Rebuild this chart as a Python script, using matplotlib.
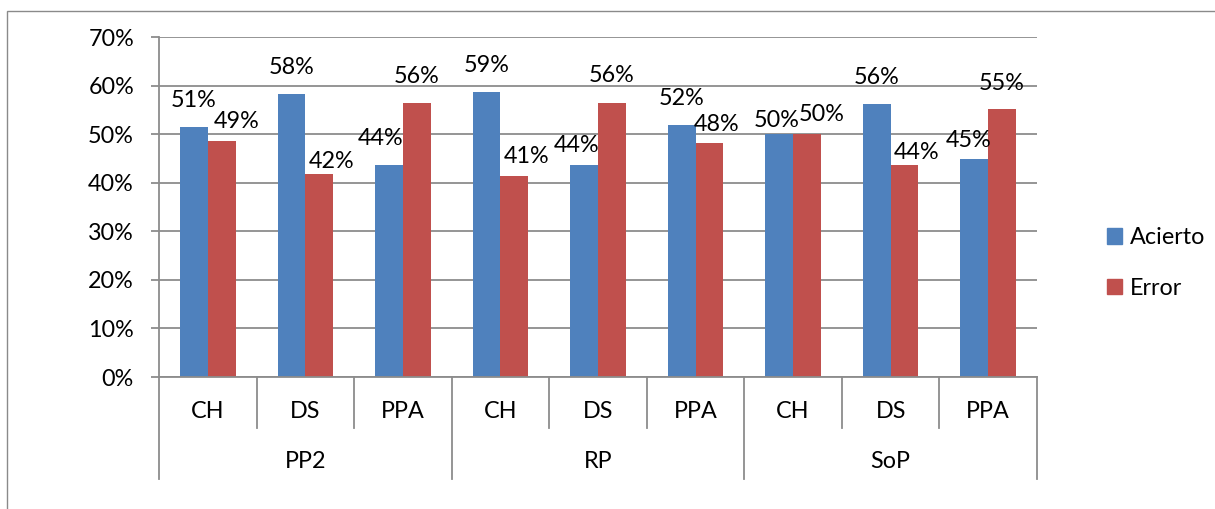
import matplotlib
matplotlib.use("Agg")
import matplotlib.pyplot as plt
from matplotlib.patches import Rectangle, Patch
from matplotlib.lines import Line2D
import numpy as np

# datos
grupos = ["PP2", "RP", "SoP"]
subcats = ["CH", "DS", "PPA"]
acierto = [51.4, 58.3, 43.6, 58.7, 43.6, 51.9, 50.0, 56.3, 44.9]
error = [48.6, 41.7, 56.4, 41.3, 56.4, 48.1, 50.0, 43.7, 55.1]
yticks = [0, 10, 20, 30, 40, 50, 60, 70]

# ajustes manuales de etiquetas (px): desplazamiento x, separacion sobre la barra
nudge_acierto = [(0, 20), (0, 20), (-8, 20), (0, 20), (-8, 13), (0, 20), (-3, 7), (0, 20), (-6, 12)]
nudge_error = [(15, 13), (12, 6), (0, 20), (12, 13), (0, 21), (7, 12), (15, 13), (12, 6), (0, 19)]

plt.rcParams['font.family'] = ['Lato', 'DejaVu Sans']
FS = 16.8
azul = '#4F81BD'
rojo = '#C0504D'
gris = '#8C8C8C'

W, H = 1215, 509
fig = plt.figure(figsize=(W / 100, H / 100), dpi=100)
ax = fig.add_axes([159 / W, 1 - 377 / H, (1037 - 159) / W, 340 / H])

# marco exterior
fig.patches.append(Rectangle((7 / W, -0.1), 1.2, 1 - 10.5 / H + 0.1, transform=fig.transFigure,
                             fill=False, edgecolor='#8A8A8A', linewidth=1.0))

n = len(acierto)
x = np.arange(n)
bw = 0.285
ax.bar(x - bw / 2, acierto, bw, color=azul, label='Acierto', zorder=3)
ax.bar(x + bw / 2, error, bw, color=rojo, label='Error', zorder=3)

# etiquetas de datos
for vals, xs, nudges in [(acierto, x - bw / 2, nudge_acierto), (error, x + bw / 2, nudge_error)]:
    for v, xi, (dx, dy) in zip(vals, xs, nudges):
        ax.annotate(f"{round(v):d}%", (xi, v), xytext=(dx, dy), textcoords='offset pixels',
                    ha='center', va='baseline', fontsize=FS, color='black', zorder=5,
                    annotation_clip=False)

ax.set_xlim(-0.5, n - 0.5)
ax.set_ylim(0, 70)
ax.set_yticks(yticks)
ax.set_yticklabels([f"{t}%" for t in yticks], fontsize=FS)
ax.yaxis.grid(True, color=gris, linewidth=1.3, zorder=0)
ax.set_axisbelow(True)
ax.tick_params(axis='y', length=6, width=1.3, color=gris, pad=12)
ax.set_xticks([])
for s in ['top', 'right', 'bottom']:
    ax.spines[s].set_visible(False)
ax.spines['left'].set_color(gris)
ax.spines['left'].set_linewidth(1.3)
ax.axhline(0, color=gris, linewidth=1.3, zorder=4, clip_on=False)

# eje de categorias de dos niveles
tr = ax.get_xaxis_transform()
inner_bottom = -(428 - 377) / 340
outer_bottom = -(479 - 377) / 340
for b in np.arange(n + 1) - 0.5:
    is_group = (round(b + 0.5) % len(subcats) == 0)
    y0 = outer_bottom if is_group else inner_bottom
    ax.add_line(Line2D([b, b], [0, y0], transform=tr, color=gris, linewidth=1.3, clip_on=False))
for i in range(n):
    ax.text(i, -(411 - 377) / 340, subcats[i % len(subcats)], transform=tr,
            ha='center', va='center', fontsize=FS)
for g, name in enumerate(grupos):
    xc = g * len(subcats) + (len(subcats) - 1) / 2
    ax.text(xc, -(462 - 377) / 340, name, transform=tr, ha='center', va='center', fontsize=FS)

# leyenda
fig.legend(handles=[Patch(color=azul, label='Acierto'), Patch(color=rojo, label='Error')],
           loc='center left', bbox_to_anchor=(1086 / W, 1 - 263 / H), frameon=False,
           fontsize=FS, handlelength=0.65, handleheight=0.65, handletextpad=0.35, labelspacing=1.25)

fig.savefig("out.png", dpi=100)
